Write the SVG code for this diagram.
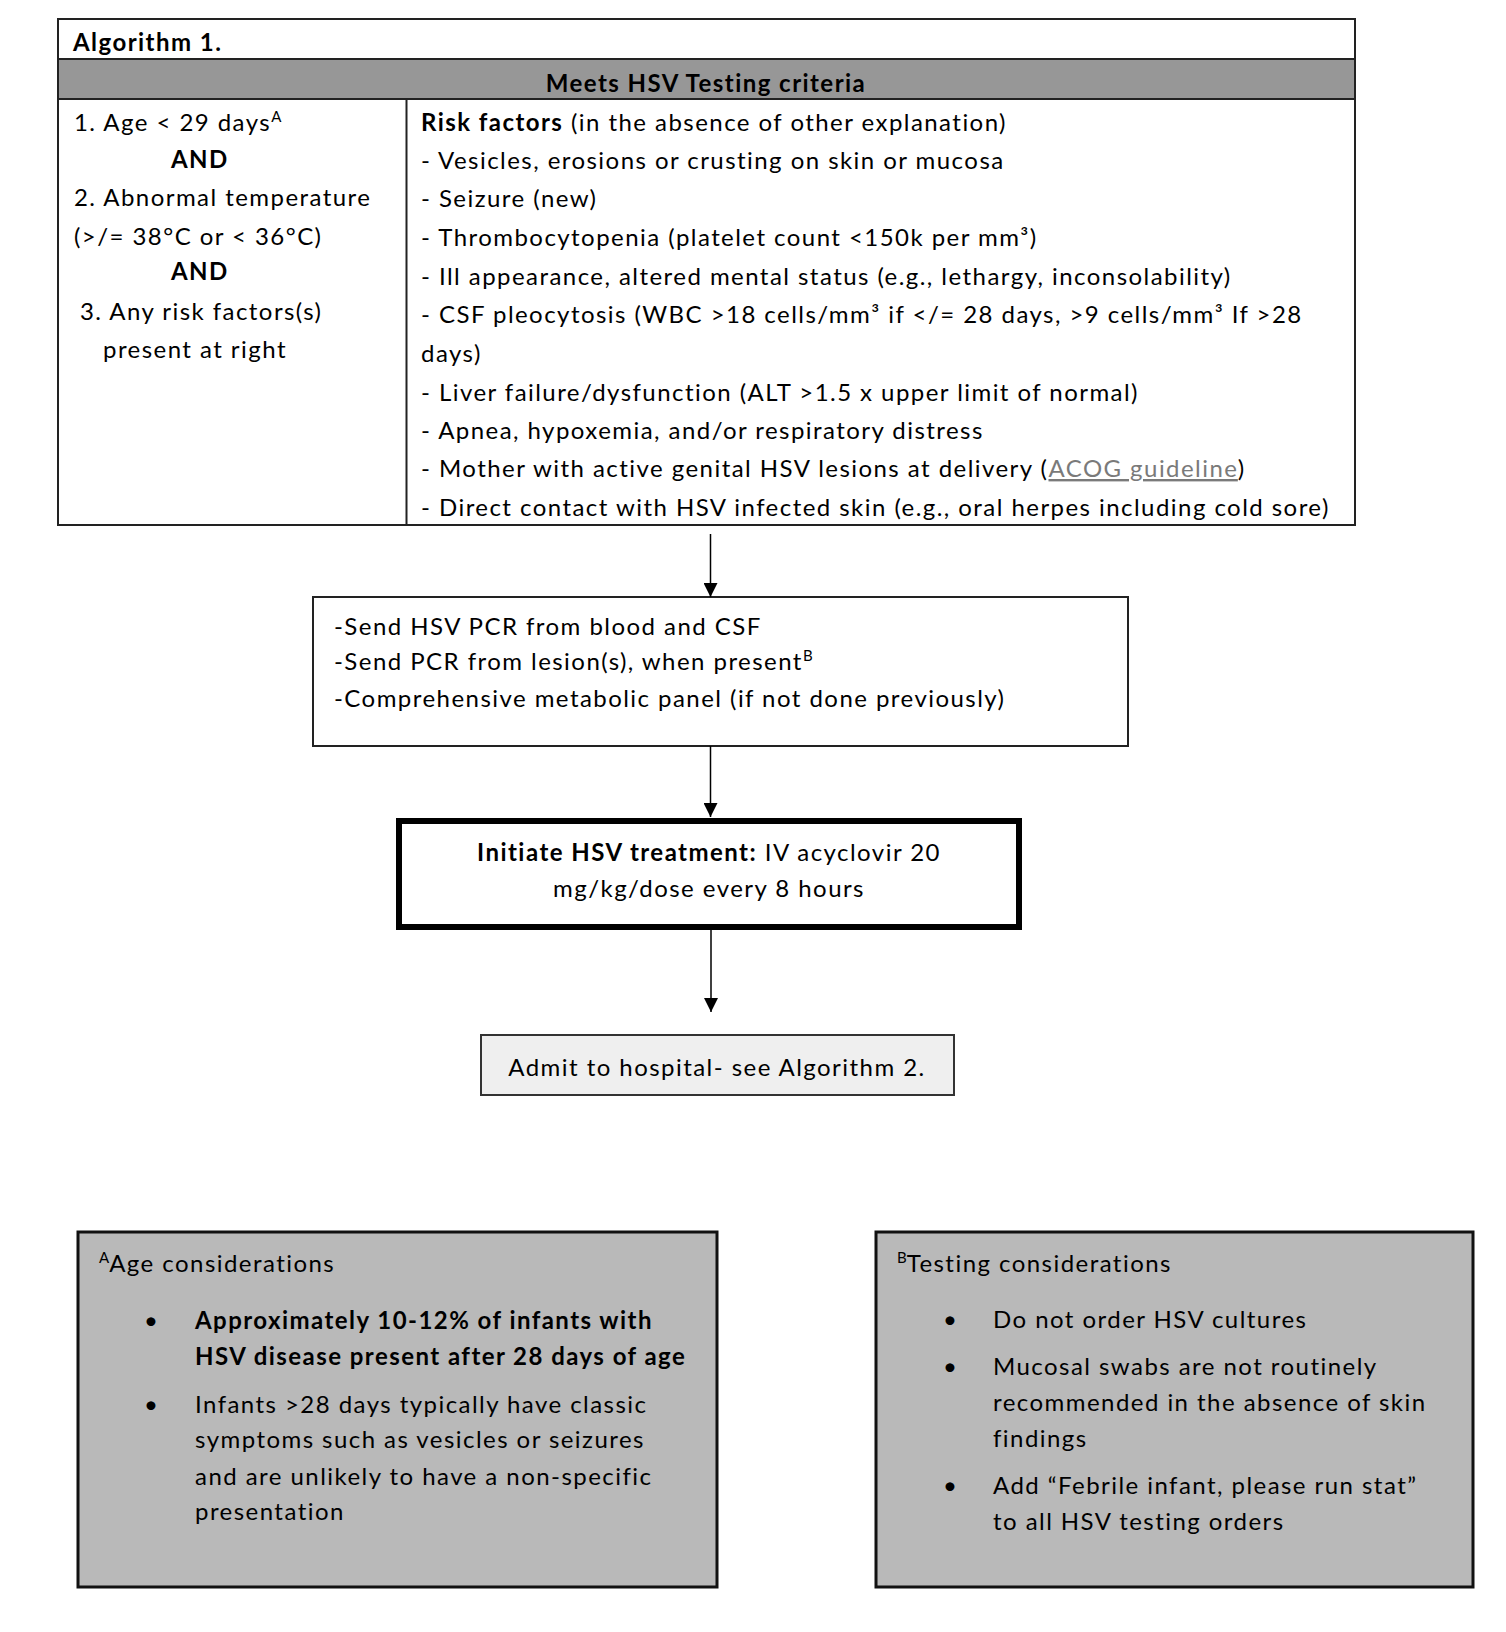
<svg xmlns="http://www.w3.org/2000/svg" width="1506" height="1632" viewBox="0 0 1506 1632">
<style>
text{font-family:Lato,"Open Sans","Liberation Sans",sans-serif;font-size:24px;letter-spacing:1.45px;fill:#000}
.b{font-weight:bold}
.sup{font-size:15px;letter-spacing:0}
.link{fill:#7a7a7a;text-decoration:underline}
.conn{stroke:#000;stroke-width:1.5;fill:none}
.note{fill:#b9b9b9;stroke:#111;stroke-width:3}
</style>
<defs>
<marker id="ah" viewBox="0 0 14 14" refX="14" refY="7" markerWidth="14" markerHeight="14" markerUnits="userSpaceOnUse" orient="auto">
<path d="M0,0 L14,7 L0,14 Z" fill="#000"/>
</marker>
</defs>
<rect width="1506" height="1632" fill="#fff"/>

<g id="criteria-table">
<rect x="58" y="19" width="1297" height="506" fill="#fff" stroke="#222" stroke-width="2"/>
<rect x="58" y="59" width="1297" height="40" fill="#979797" stroke="#222" stroke-width="2"/>
<line x1="406.5" y1="99" x2="406.5" y2="525" stroke="#222" stroke-width="2"/>
<text x="73" y="51" class="b">Algorithm 1.</text>
<text x="706" y="92" class="b" text-anchor="middle">Meets HSV Testing criteria</text>
<text x="74" y="131">1. Age &lt; 29 days<tspan class="sup" dy="-9">A</tspan></text>
<text x="171" y="168" class="b">AND</text>
<text x="74" y="206">2. Abnormal temperature</text>
<text x="74" y="245">(&gt;/= 38°C or &lt; 36°C)</text>
<text x="171" y="280" class="b">AND</text>
<text x="80" y="320">3. Any risk factors(s)</text>
<text x="103" y="358">present at right</text>
<text x="421" y="131"><tspan class="b">Risk factors</tspan> (in the absence of other explanation)</text>
<text x="421" y="169">- Vesicles, erosions or crusting on skin or mucosa</text>
<text x="421" y="207">- Seizure (new)</text>
<text x="421" y="246">- Thrombocytopenia (platelet count &lt;150k per mm³)</text>
<text x="421" y="285">- Ill appearance, altered mental status (e.g., lethargy, inconsolability)</text>
<text x="421" y="323">- CSF pleocytosis (WBC &gt;18 cells/mm³ if &lt;/= 28 days, &gt;9 cells/mm³ If &gt;28</text>
<text x="421" y="362">days)</text>
<text x="421" y="401">- Liver failure/dysfunction (ALT &gt;1.5 x upper limit of normal)</text>
<text x="421" y="439">- Apnea, hypoxemia, and/or respiratory distress</text>
<text x="421" y="477">- Mother with active genital HSV lesions at delivery (<tspan class="link">ACOG guideline</tspan>)</text>
<text x="421" y="516">- Direct contact with HSV infected skin (e.g., oral herpes including cold sore)</text>
</g>

<g id="send-tests">
<rect x="313" y="597" width="815" height="149" fill="#fff" stroke="#222" stroke-width="2"/>
<text x="334" y="635">-Send HSV PCR from blood and CSF</text>
<text x="334" y="670">-Send PCR from lesion(s), when present<tspan class="sup" dy="-9">B</tspan></text>
<text x="334" y="707">-Comprehensive metabolic panel (if not done previously)</text>
</g>

<g id="initiate-treatment">
<rect x="399" y="821" width="620" height="106" fill="#fff" stroke="#000" stroke-width="6"/>
<text x="709" y="861" text-anchor="middle"><tspan class="b">Initiate HSV treatment:</tspan> IV acyclovir 20</text>
<text x="709" y="897" text-anchor="middle">mg/kg/dose every 8 hours</text>
</g>

<g id="admit">
<rect x="481" y="1035" width="473" height="60" fill="#efefef" stroke="#333" stroke-width="2"/>
<text x="717" y="1076" text-anchor="middle">Admit to hospital- see Algorithm 2.</text>
</g>

<g id="note-age">
<rect x="78" y="1232" width="639" height="355" class="note"/>
<text x="99" y="1272"><tspan class="sup" dy="-9">A</tspan><tspan dy="9">Age considerations</tspan></text>
<text x="144" y="1329">•</text>
<text x="195" y="1329" class="b">Approximately 10-12% of infants with</text>
<text x="195" y="1365" class="b">HSV disease present after 28 days of age</text>
<text x="144" y="1413">•</text>
<text x="195" y="1413">Infants &gt;28 days typically have classic</text>
<text x="195" y="1448">symptoms such as vesicles or seizures</text>
<text x="195" y="1485">and are unlikely to have a non-specific</text>
<text x="195" y="1520">presentation</text>
</g>

<g id="note-testing">
<rect x="876" y="1232" width="597" height="355" class="note"/>
<text x="897" y="1272"><tspan class="sup" dy="-9">B</tspan><tspan dy="9">Testing considerations</tspan></text>
<text x="943" y="1328">•</text>
<text x="993" y="1328">Do not order HSV cultures</text>
<text x="943" y="1375">•</text>
<text x="993" y="1375">Mucosal swabs are not routinely</text>
<text x="993" y="1411">recommended in the absence of skin</text>
<text x="993" y="1447">findings</text>
<text x="943" y="1494">•</text>
<text x="993" y="1494">Add “Febrile infant, please run stat”</text>
<text x="993" y="1530">to all HSV testing orders</text>
</g>

<g id="connectors">
<line x1="710.5" y1="534" x2="710.5" y2="597" class="conn" marker-end="url(#ah)"/>
<line x1="710.5" y1="746" x2="710.5" y2="817" class="conn" marker-end="url(#ah)"/>
<line x1="711" y1="930" x2="711" y2="1012" class="conn" marker-end="url(#ah)"/>
</g>
</svg>
